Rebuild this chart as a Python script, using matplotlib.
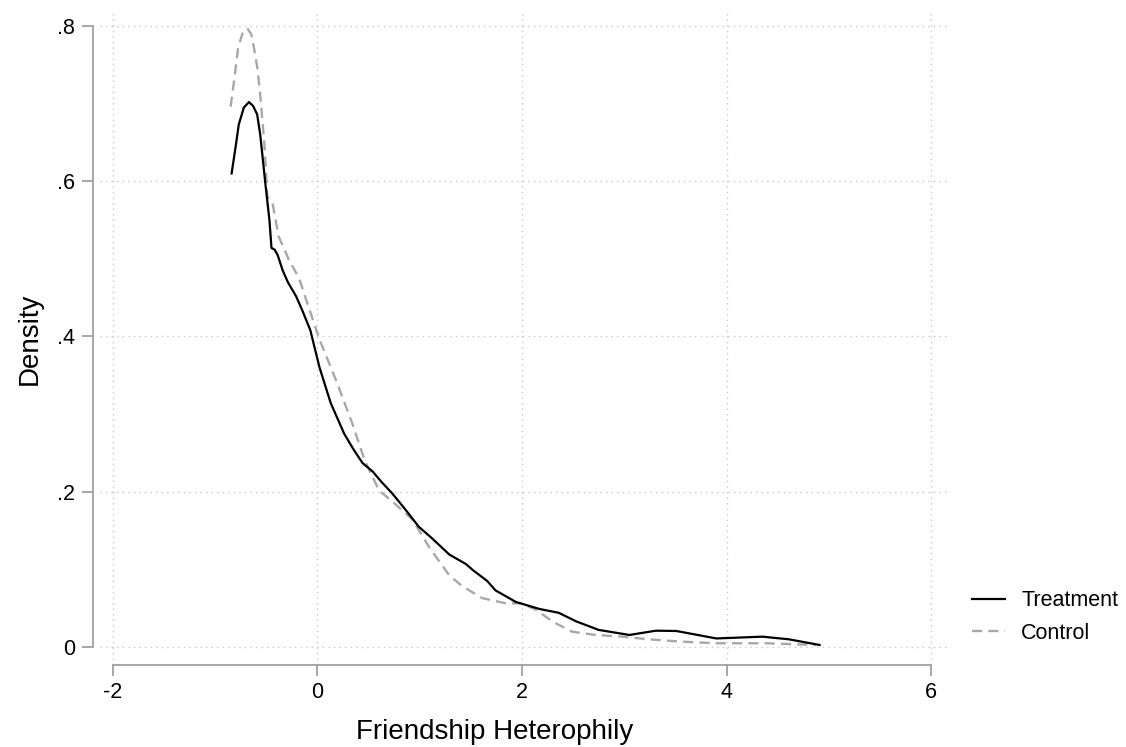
import matplotlib
matplotlib.use("Agg")
import matplotlib.pyplot as plt

plt.rcParams['font.family'] = ['Liberation Sans', 'DejaVu Sans']

treat_x = [-0.84, -0.80, -0.77, -0.72, -0.67, -0.63, -0.59, -0.56, -0.54, -0.51, -0.47, -0.45, -0.42,
           -0.39, -0.34, -0.29, -0.21, -0.15, -0.07, 0.02, 0.13, 0.26, 0.35, 0.44, 0.54, 0.63,
           0.73, 0.86, 0.99, 1.12, 1.29, 1.45, 1.52, 1.66, 1.74, 1.94, 2.17, 2.36, 2.53, 2.75,
           3.05, 3.31, 3.51, 3.90, 4.35, 4.61, 4.91]
treat_y = [0.61, 0.645, 0.673, 0.695, 0.702, 0.697, 0.686, 0.66, 0.635, 0.597, 0.55, 0.514, 0.512,
           0.505, 0.485, 0.47, 0.452, 0.434, 0.408, 0.36, 0.314, 0.275, 0.255, 0.237, 0.226, 0.212,
           0.198, 0.177, 0.155, 0.140, 0.119, 0.107, 0.099, 0.085, 0.073, 0.058, 0.049, 0.044, 0.033, 0.022,
           0.0155, 0.021, 0.0206, 0.011, 0.0133, 0.0099, 0.0026]

ctrl_x = [-0.85, -0.816, -0.777, -0.735, -0.686, -0.647, -0.62, -0.588, -0.56, -0.52, -0.49, -0.44,
          -0.38, -0.28, -0.18, -0.10, 0.02, 0.18, 0.34, 0.46, 0.60, 0.77, 0.93, 1.09, 1.29, 1.42,
          1.61, 1.84, 1.99, 2.14, 2.30, 2.49, 2.72, 2.98, 3.24, 3.57, 3.90, 4.39, 4.88]
ctrl_y = [0.696, 0.729, 0.771, 0.790, 0.797, 0.789, 0.771, 0.746, 0.711, 0.649, 0.58, 0.572,
          0.529, 0.499, 0.475, 0.443, 0.396, 0.344, 0.288, 0.241, 0.202, 0.183, 0.164, 0.129, 0.092, 0.078,
          0.063, 0.0563, 0.0563, 0.0477, 0.0326, 0.0197, 0.0155, 0.0133, 0.0099, 0.0068, 0.0048, 0.0048, 0.0026]

x_ticks = [-2, 0, 2, 4, 6]
x_ticklabels = ['-2', '0', '2', '4', '6']
y_ticks = [0, 0.2, 0.4, 0.6, 0.8]
y_ticklabels = ['0', '.2', '.4', '.6', '.8']

W, H = 1126, 747
fig = plt.figure(figsize=(W / 100, H / 100), dpi=100)
left, right, top, bottom = 100, 948, 12, 665
ax = fig.add_axes([left / W, (H - bottom) / H, (right - left) / W, (bottom - top) / H])

ax.plot(treat_x, treat_y, color='black', lw=1.6, label='Treatment', zorder=3)
ax.plot(ctrl_x, ctrl_y, color='#a8a8a8', lw=1.7, dashes=(4.3, 2.6), label='Control', zorder=2)

ax.set_xlim(-2.127, 6.166)
ax.set_ylim(-0.0232, 0.818)

spine_col = '#a0a0a0'
for s in ['top', 'right']:
    ax.spines[s].set_visible(False)
ax.spines['left'].set_position(('outward', 5))
ax.spines['left'].set_bounds(0, 0.8)
ax.spines['bottom'].set_bounds(-2, 6)
for s in ['left', 'bottom']:
    ax.spines[s].set_color(spine_col)
    ax.spines[s].set_linewidth(1.3)

ax.set_xticks(x_ticks)
ax.set_xticklabels(x_ticklabels)
ax.set_yticks(y_ticks)
ax.set_yticklabels(y_ticklabels)
ax.tick_params(axis='both', length=8, width=1.3, color=spine_col, labelsize=15.5, labelcolor='black')
ax.tick_params(axis='x', pad=4)
ax.tick_params(axis='y', pad=5)

ax.grid(True, color='#c8c8c8', linestyle=(0, (1, 3)), linewidth=1.0)
ax.set_axisbelow(True)

ax.set_xlabel('Friendship Heterophily', fontsize=20, labelpad=10)
ax.xaxis.set_label_coords((495 - left) / (right - left), -0.082)
ax.set_ylabel('Density', fontsize=20, labelpad=10)

fig.legend(loc='center left', bbox_to_anchor=(961 / W, (H - 617) / H), frameon=False,
           fontsize=15.5, handlelength=1.55, handletextpad=0.75, labelspacing=0.52, borderpad=0)

fig.savefig('out.png', dpi=100)
